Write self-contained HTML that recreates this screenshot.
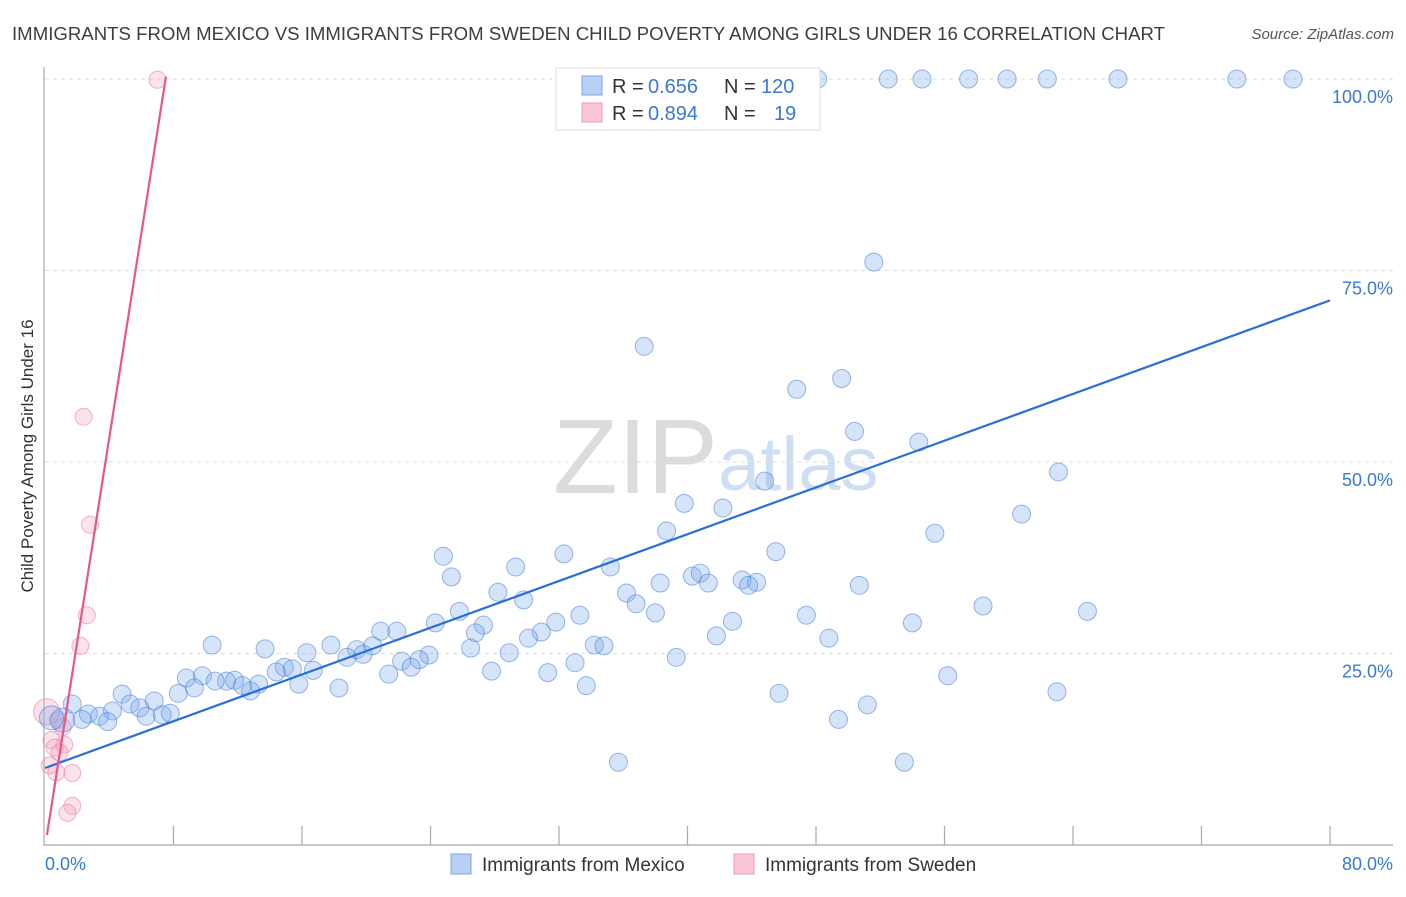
<!DOCTYPE html>
<html><head><meta charset="utf-8"><style>
body{margin:0;background:#fff;font-family:"Liberation Sans",sans-serif;}
svg text{font-family:"Liberation Sans",sans-serif;}
</style></head><body>
<svg id="chart" width="1406" height="892" viewBox="0 0 1406 892" xmlns="http://www.w3.org/2000/svg">
<text x="12" y="40" font-size="18.6" fill="#3d3d3d" textLength="1153">IMMIGRANTS FROM MEXICO VS IMMIGRANTS FROM SWEDEN CHILD POVERTY AMONG GIRLS UNDER 16 CORRELATION CHART</text>
<text x="1394" y="39" font-size="15" font-style="italic" fill="#555" text-anchor="end">Source: ZipAtlas.com</text>
<g>
<text x="553" y="493" font-size="106" font-family="Liberation Serif" fill="#dcdcdc">ZIP</text>
<text x="718" y="490" font-size="76" fill="#cfdff3">atlas</text>
</g>
<g id="grid"></g>
<text transform="translate(33,456) rotate(-90)" font-size="17" fill="#333" text-anchor="middle">Child Poverty Among Girls Under 16</text>
<g id="marks"></g>
<g>
<rect x="556" y="68" width="264" height="62" fill="#fff" stroke="#ddd"/>
<rect x="582" y="76" width="20" height="19" fill="#b8d0f5" stroke="#7fa6e4"/>
<rect x="582" y="103" width="20" height="19" fill="#fbc6d6" stroke="#f09ab6"/>
<text x="612" y="93" font-size="20" fill="#333">R =</text>
<text x="648" y="93" font-size="20" fill="#3a78d8">0.656</text>
<text x="724" y="93" font-size="20" fill="#333">N =</text>
<text x="761" y="93" font-size="20" fill="#3a78d8">120</text>
<text x="612" y="120" font-size="20" fill="#333">R =</text>
<text x="648" y="120" font-size="20" fill="#3a78d8">0.894</text>
<text x="724" y="120" font-size="20" fill="#333">N =</text>
<text x="774" y="120" font-size="20" fill="#3a78d8">19</text>
</g>
<g>
<rect x="451" y="854" width="20" height="20" fill="#b8d0f5" stroke="#7fa6e4"/>
<text x="482" y="871" font-size="19" fill="#333">Immigrants from Mexico</text>
<rect x="734" y="854" width="20" height="20" fill="#fbc6d6" stroke="#f09ab6"/>
<text x="765" y="871" font-size="19" fill="#333">Immigrants from Sweden</text>
</g>
</svg>
<script>
const yTicks=[25,50,75,100];
const yTickLabels=["25.0%","50.0%","75.0%","100.0%"];
const xTicks=[0,8,16,24,32,40,48,56,64,72,80];
const mexX=[48.1,52.5,54.6,57.5,59.9,62.4,66.8,74.2,77.7,51.6,37.3,49.6,46.8,50.4,54.4,63.1,44.8,39.8,42.2,60.8,55.4,38.7,45.5,24.8,32.3,29.3,35.2,25.3,28.2,40.3,40.8,41.3,43.4,44.3,43.8,38.3,50.7,36.2,36.8,29.8,58.4,64.9,25.8,33.3,38.0,47.4,24.3,27.3,31.8,42.8,54.0,30.9,26.8,30.1,41.8,48.8,20.9,21.9,17.8,10.4,13.7,26.5,34.2,34.8,28.9,23.9,20.4,19.4,19.8,18.8,16.3,39.3,22.2,23.3,22.8,33.0,14.9,15.4,14.4,16.7,27.8,21.4,31.3,56.2,8.8,9.8,11.3,10.6,11.8,12.3,15.8,18.3,13.3,9.3,33.7,12.8,8.3,4.8,63.0,45.7,6.8,5.3,5.9,51.2,1.7,4.2,2.7,3.4,6.3,7.3,7.8,49.4,2.3,3.9,1.1,0.4,35.7,53.5];
const mexY=[100,100,100,100,100,100,100,100,100,76.1,65.1,60.9,59.5,54.0,52.6,48.7,47.5,44.6,44.0,43.2,40.7,41.0,38.3,37.7,38.0,36.3,36.3,35.0,33.0,35.1,35.5,34.2,34.6,34.3,33.9,34.2,33.9,32.9,31.5,32.0,31.2,30.5,30.5,30.0,30.3,30.0,29.0,28.7,29.1,29.2,29.0,27.8,27.7,27.0,27.3,27.0,27.9,27.9,26.1,26.1,25.6,25.7,26.1,26.0,25.1,24.8,26.0,25.5,24.9,24.5,25.1,24.5,24.0,24.2,23.2,23.8,23.2,23.0,22.6,22.8,22.7,22.3,22.5,22.1,21.8,22.1,21.4,21.4,21.5,20.8,21.0,20.5,21.0,20.5,20.8,20.1,19.8,19.7,20.0,19.8,18.8,18.4,17.9,18.3,18.4,17.5,17.1,16.8,16.8,17.0,17.2,16.4,16.4,16.1,16.3,16.6,10.8,10.8];
const sweX=[7.0,2.4,2.8,2.6,2.2,0.1,0.8,0.4,1.2,0.9,0.3,0.7,1.7,1.7,1.4,1.1,0.6];
const sweY=[99.9,55.9,41.8,30.0,26.0,17.4,16.3,13.7,13.1,12.1,10.4,9.5,9.4,5.1,4.2,15.4,12.7];
const mexLine=[[0,10.05],[80,71.1]];
const sweLine=[[0.12,1.3],[7.53,100.3]];
const X=v=>45+v*(1330-45)/80;
const Y=v=>845-v*(845-79)/100;
const NS="http://www.w3.org/2000/svg";
function mk(tag,attrs,parent){const e=document.createElementNS(NS,tag);for(const k in attrs)e.setAttribute(k,attrs[k]);parent.appendChild(e);return e;}
const grid=document.getElementById('grid');
yTicks.forEach((t,i)=>{
 const l=mk('line',{x1:45,x2:1393,y1:Y(t),y2:Y(t),stroke:'#ddd','stroke-dasharray':'4,4'},grid);
 
 
 const tx=mk('text',{x:1393,y:Y(t)+24,'font-size':18,fill:'#3a78d8','text-anchor':'end'},grid);
 tx.textContent=yTickLabels[i];
 
 
});
const ax=mk('path',{d:'M44,67 V845 H1393',fill:'none',stroke:'#aaa','stroke-width':1.2},grid);


xTicks.forEach(t=>{
 if(t===0)return;
 const l=mk('line',{x1:X(t),x2:X(t),y1:826,y2:845,stroke:'#aaa','stroke-width':1.2},grid);
 
 
});
const x0=mk('text',{x:45,y:870,'font-size':18,fill:'#3a78d8'},grid);x0.textContent='0.0%';


const x1=mk('text',{x:1393,y:870,'font-size':18,fill:'#3a78d8','text-anchor':'end'},grid);x1.textContent='80.0%';


const marks=document.getElementById('marks');
sweX.forEach((v,i)=>{
 const c=mk('circle',{cx:X(v),cy:Y(sweY[i]),r:i===5?13:8.5,fill:'rgba(245,160,190,0.3)',stroke:'rgba(235,130,165,0.6)'},marks);
 
 
});
mexX.forEach((v,i)=>{
 const c=mk('circle',{cx:X(v),cy:Y(mexY[i]),r:(i>=mexX.length-4&&i<mexX.length-2)?12:9,fill:'rgba(120,165,235,0.3)',stroke:'rgba(70,125,215,0.55)'},marks);
 
 
});
const bl=mk('line',{x1:X(mexLine[0][0]),y1:Y(mexLine[0][1]),x2:X(mexLine[1][0]),y2:Y(mexLine[1][1]),stroke:'#2a6fd8','stroke-width':2.2},marks);


const pl=mk('line',{x1:X(sweLine[0][0]),y1:Y(sweLine[0][1]),x2:X(sweLine[1][0]),y2:Y(sweLine[1][1]),stroke:'#e8578a','stroke-width':2.2},marks);


</script>
</body></html>
